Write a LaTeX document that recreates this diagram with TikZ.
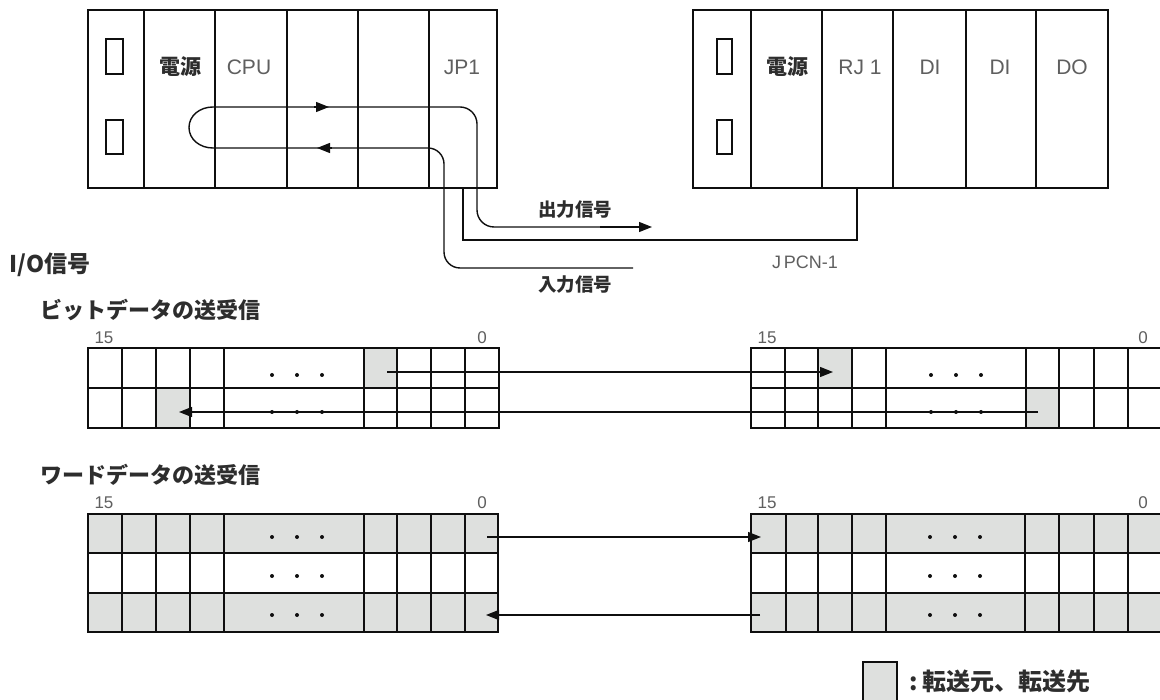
\documentclass[tikz,border=0pt]{standalone}
\usepackage{fontspec}
\setmainfont{Liberation Sans}
\newfontfamily\jp{Noto Sans CJK JP}
\usetikzlibrary{arrows.meta}
\definecolor{cellgray}{RGB}{222,224,222}
\definecolor{ink}{RGB}{15,15,15}
\definecolor{lbl}{RGB}{95,95,95}
\definecolor{jink}{RGB}{45,45,45}
\begin{document}
\begin{tikzpicture}[x=1pt,y=-1pt,line width=1.4pt,draw=ink,
  lab/.style={text=lbl,font=\fontsize{21}{21}\selectfont,inner sep=0pt},
  jlab/.style={text=jink,font=\jp\bfseries\fontsize{21}{21}\selectfont,inner sep=0pt},
  head/.style={text=jink,font=\jp\bfseries\fontsize{22}{22}\selectfont,inner sep=0pt,anchor=west},
  sig/.style={text=jink,font=\jp\bfseries\fontsize{18.5}{18.5}\selectfont,inner sep=0pt},
  bitno/.style={text=lbl,font=\fontsize{17}{17}\selectfont,inner sep=0pt},
  tip/.style={-{Triangle[length=13pt,width=10pt]}},
  dot/.style={fill=ink},
]
\clip (0,0) rectangle (1160,700);
\fill[white] (0,0) rectangle (1160,700);

% ---------- left rack ----------
\draw (88,10) rectangle (497,188);
\foreach \x in {144,215,287,358,429} \draw (\x,10) -- (\x,188);
\draw (106,39) rectangle (123,74);
\draw (106,120) rectangle (123,154);
\node[jlab] (psL) at (180,67) {電源};
\node[lab] (cpu) at (249,67) {CPU};
\node[lab] (jp1) at (462,67) {JP1};

% ---------- right rack ----------
\draw (693,10) rectangle (1108,188);
\foreach \x in {751,822,893,966,1036} \draw (\x,10) -- (\x,188);
\draw (717,39) rectangle (732,74);
\draw (717,120) rectangle (732,154);
\node[jlab] (psR) at (787,67) {電源};
\node[lab] (rj1) at (860,67) {RJ 1};
\node[lab] (di1) at (930,67) {DI};
\node[lab] (di2) at (1000,67) {DI};
\node[lab] (do1) at (1072,67) {DO};

% ---------- signal loop ----------
\coordinate (inEnd) at (633,268);
\coordinate (outEnd) at (652,227);
\coordinate (loopB) at (213,148);
\coordinate (loopT) at (213,107);
\draw[rounded corners=16pt] (inEnd) -- (444,268) -- (444,148) -- (loopB);
\draw (loopB) .. controls (199.75,148) and (189,139.3) .. (189,127.5)
  .. controls (189,115.7) and (199.75,107) .. (loopT);
\draw[rounded corners=17pt] (loopT) -- (477,107) -- (477,227) -- (620,227);
\draw[tip] (600,227) -- (outEnd);
\draw[tip] (314,107) -- (329,107);
\draw[tip] (332,148) -- (317,148);

% cable JPCN-1
\draw (463,188) -- (463,240) -- (857,240) -- (857,188);

\node[sig] (outSig) at (575,210) {出力信号};
\node[sig] (inSig) at (575,285) {入力信号};
\node[lab,font=\fontsize{18}{18}\selectfont] (jpcn) at (805,262) {J\,PCN-1};

% ---------- headings ----------
\node[head,font=\jp\bfseries\fontsize{23}{23}\selectfont] (io) at (9,265) {I/O信号};
\node[head] (bitH) at (40,310) {ビットデータの送受信};
\node[head] (wordH) at (40,475) {ワードデータの送受信};

% ---------- bit tables ----------
\fill[cellgray] (364,348) rectangle (397,388);
\fill[cellgray] (156,388) rectangle (190,428);
\draw (88,348) rectangle (499,428);
\draw (88,388) -- (499,388);
\foreach \x in {122,156,190,224,364,397,431,465} \draw (\x,348) -- (\x,428);
\foreach \x in {272,297,322} {\fill[dot] (\x,375) circle (2pt); \fill[dot] (\x,412) circle (2pt);}
\node[bitno] (bL15) at (104,338) {15};
\node[bitno] (bL0) at (482,338) {0};

\fill[cellgray] (818,348) rectangle (852,388);
\fill[cellgray] (1026,388) rectangle (1059,428);
\draw (751,348) rectangle (1162,428);
\draw (751,388) -- (1162,388);
\foreach \x in {785,818,852,886,1026,1059,1094,1128} \draw (\x,348) -- (\x,428);
\foreach \x in {931,956,981} {\fill[dot] (\x,375) circle (2pt); \fill[dot] (\x,412) circle (2pt);}
\node[bitno] (bR15) at (767,338) {15};
\node[bitno] (bR0) at (1143,338) {0};

\coordinate (bSrc1) at (387,372);
\coordinate (bDst1) at (833,372);
\coordinate (bSrc2) at (1038,412);
\coordinate (bDst2) at (179,412);
\draw[tip] (bSrc1) -- (bDst1);
\draw[tip] (bSrc2) -- (bDst2);

% ---------- word tables ----------
\fill[cellgray] (88,514) rectangle (498,553);
\fill[cellgray] (88,593) rectangle (498,632);
\draw (88,514) rectangle (498,632);
\draw (88,553) -- (498,553);
\draw (88,593) -- (498,593);
\foreach \x in {122,156,190,224,364,397,431,465} \draw (\x,514) -- (\x,632);
\foreach \x in {272,297,322} \foreach \y in {537,576,615} \fill[dot] (\x,\y) circle (2pt);
\node[bitno] (wL15) at (104,503) {15};
\node[bitno] (wL0) at (482,503) {0};

\fill[cellgray] (751,514) rectangle (1162,553);
\fill[cellgray] (751,593) rectangle (1162,632);
\draw (751,514) rectangle (1162,632);
\draw (751,553) -- (1162,553);
\draw (751,593) -- (1162,593);
\foreach \x in {786,818,852,886,1025,1059,1094,1128} \draw (\x,514) -- (\x,632);
\foreach \x in {930,955,980} \foreach \y in {537,576,615} \fill[dot] (\x,\y) circle (2pt);
\node[bitno] (wR15) at (767,503) {15};
\node[bitno] (wR0) at (1143,503) {0};

\coordinate (wSrc1) at (487,537);
\coordinate (wDst1) at (761,537);
\coordinate (wSrc2) at (760,615);
\coordinate (wDst2) at (486,615);
\draw[tip] (wSrc1) -- (wDst1);
\draw[tip] (wSrc2) -- (wDst2);

% ---------- legend ----------
\draw[fill=cellgray] (863,662) rectangle (897,706);
\node[head,font=\jp\bfseries\fontsize{24}{24}\selectfont] (leg) at (909,681) {:\,転送元、転送先};
\end{tikzpicture}
\end{document}
